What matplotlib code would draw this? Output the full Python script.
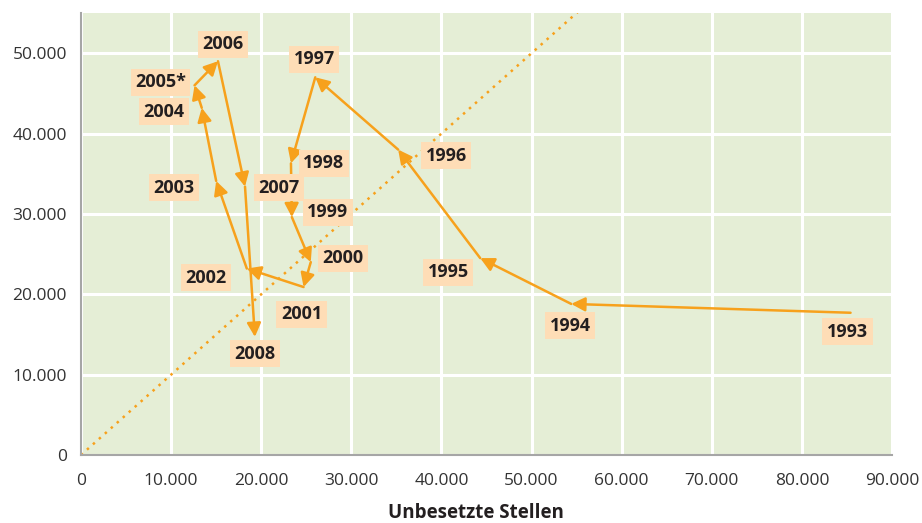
import matplotlib
matplotlib.use("Agg")
import matplotlib.pyplot as plt
from matplotlib.ticker import FuncFormatter, MultipleLocator, FixedLocator

# Beveridge-style loop: unfilled vacancies (x) vs. second series (y)
years = ["1993", "1994", "1995", "1996", "1997", "1998", "1999", "2000",
         "2001", "2002", "2003", "2004", "2005*", "2006", "2007", "2008"]
vacancies = [85400, 54400, 44300, 35200, 26000, 23300, 23400, 25500,
             24700, 18400, 15000, 13400, 12600, 15200, 18200, 19300]
values = [17700, 18800, 24500, 38000, 47000, 36300, 29600, 24000,
          20900, 23200, 34100, 43200, 46000, 49000, 33400, 14700]

# label offsets from each point (pixels)
label_offsets = [(-3, -19), (-1, -22), (-32, -14), (48, -6), (-1, 18), (33, 0),
                 (36, 5), (32, 4), (-2, -27), (-41, -9), (-42, -7), (-38, -4),
                 (-34, 3), (5, 17), (34, -1), (0, -17)]

ORANGE = "#F7A11C"
BG = "#E5EED6"
BOX = "#FEDDB6"
SPINE = "#A6A6A6"

plt.rcParams["font.family"] = ["Open Sans", "DejaVu Sans"]

fig = plt.figure(figsize=(9.22, 5.23), dpi=100)
ax = fig.add_axes([81 / 922, 68 / 523, 811 / 922, 442 / 523])
ax.set_facecolor(BG)

ax.set_xlim(0, 90000)
ax.set_ylim(0, 55000)
ax.xaxis.set_major_locator(MultipleLocator(10000))
ax.yaxis.set_major_locator(MultipleLocator(10000))
ax.xaxis.set_minor_locator(FixedLocator([0, 90000]))
ax.yaxis.set_minor_locator(FixedLocator([0]))
fmt = FuncFormatter(lambda v, _: f"{int(v):,}".replace(",", "."))
ax.xaxis.set_major_formatter(fmt)
ax.yaxis.set_major_formatter(fmt)
ax.grid(True, which="major", color="white", lw=2.2, zorder=0)
ax.set_axisbelow(True)

for s in ("top", "right"):
    ax.spines[s].set_visible(False)
for s in ("left", "bottom"):
    ax.spines[s].set_color(SPINE)
    ax.spines[s].set_linewidth(1.5)
ax.tick_params(axis="both", which="major", length=0, labelsize=12.5,
               labelcolor="#333333")
ax.tick_params(axis="y", which="major", pad=10)
ax.tick_params(axis="x", which="major", pad=13)
ax.tick_params(axis="x", which="minor", length=7, width=1.5, color=SPINE)
ax.tick_params(axis="y", which="minor", length=5, width=1.5, color=SPINE)

# diagonal reference line
ax.plot([0, 60000], [0, 60000], color=ORANGE, lw=1.8,
        linestyle=(0, (1, 2.2)), zorder=2)

# path with arrowheads pointing to each following year
for i in range(1, len(years)):
    ax.annotate("", xy=(vacancies[i], values[i]),
                xytext=(vacancies[i - 1], values[i - 1]),
                arrowprops=dict(arrowstyle="-|>,head_length=0.55,head_width=0.28",
                                color=ORANGE, lw=1.8, mutation_scale=15,
                                shrinkA=0, shrinkB=0),
                zorder=3)

for yr, xv, yv, off in zip(years, vacancies, values, label_offsets):
    ax.annotate(yr, xy=(xv, yv), xytext=off, textcoords="offset pixels",
                ha="center", va="center", fontsize=13, fontweight="bold",
                color="#231F20", zorder=5,
                bbox=dict(boxstyle="square,pad=0.25", fc=BOX, ec="none"))

fig.text(476 / 922, 5 / 523, "Unbesetzte Stellen", ha="center",
         va="baseline", fontsize=13.5, fontweight="bold", color="#231F20")

fig.savefig("out.png", dpi=100)
